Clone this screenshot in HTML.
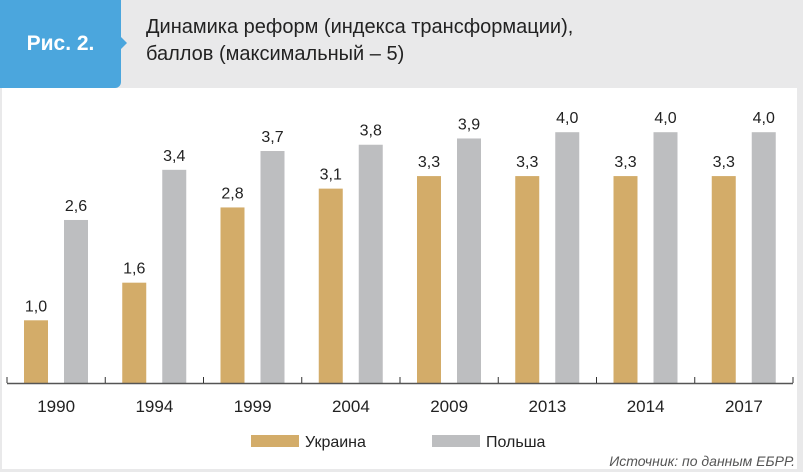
<!DOCTYPE html>
<html><head><meta charset="utf-8"><style>
body{margin:0;width:803px;height:472px;background:#e9e9ea;font-family:"Liberation Sans",sans-serif;overflow:hidden;position:relative}
#hdr{position:absolute;left:0;top:0;width:121px;height:88px;background:#4ba6dd;border-radius:0 0 6px 0}
#hdr:after{content:"";position:absolute;right:-6px;top:37px;border-left:6px solid #4ba6dd;border-top:6px solid transparent;border-bottom:6px solid transparent}
#title{position:absolute;left:146px;top:14px;font-size:20px;line-height:27px;color:#222}
#panel{position:absolute;left:2px;top:88px;width:795px;height:381px;background:#fff}
</style></head><body>
<div id="hdr"><div style="position:absolute;left:0;width:121px;top:32px;text-align:center;color:#fff;font-weight:bold;font-size:21px">Рис. 2.</div></div>
<div id="title">Динамика реформ (индекса трансформации),<br>баллов (максимальный – 5)</div>
<div id="panel"></div>
<svg id="chart" width="803" height="472" style="position:absolute;left:0;top:0"></svg>
<script>
const categories=["1990","1994","1999","2004","2009","2013","2014","2017"];
const ukraine=[1.0,1.6,2.8,3.1,3.3,3.3,3.3,3.3];
const poland=[2.6,3.4,3.7,3.8,3.9,4.0,4.0,4.0];
const svg=document.getElementById('chart');const NS="http://www.w3.org/2000/svg";
const x0=7,gw=98.25,baseY=383,ppu=62.7;
const xg=i=>x0+i*gw; const y=v=>baseY-v*ppu;
function mk(t,a,txt){const e=document.createElementNS(NS,t);for(const k in a)e.setAttribute(k,a[k]);if(txt!=null)e.textContent=txt;svg.appendChild(e);return e;}
function fmt(v){return v.toFixed(1).replace('.',',');}
categories.forEach((c,i)=>{
 let r=mk('rect',{x:xg(i)+17,y:y(ukraine[i]),width:24,height:ukraine[i]*ppu,fill:'#d3ac69'});
 
 
 let t=mk('text',{x:xg(i)+29,y:y(ukraine[i])-9,'text-anchor':'middle','font-size':16,fill:'#222'},fmt(ukraine[i]));
 
 
 let p=mk('rect',{x:xg(i)+57,y:y(poland[i]),width:24,height:poland[i]*ppu,fill:'#bdbec0'});
 
 
 let t2=mk('text',{x:xg(i)+69,y:y(poland[i])-9,'text-anchor':'middle','font-size':16,fill:'#222'},fmt(poland[i]));
 
 
 let l=mk('text',{x:xg(i)+gw/2,y:412,'text-anchor':'middle','font-size':17,fill:'#222'},c);
 
 
});
let ax=mk('line',{x1:7,x2:793,y1:baseY+0.5,y2:baseY+0.5,stroke:'#555','stroke-width':1.5});


for(let i=0;i<=categories.length;i++){let tk=mk('line',{x1:xg(i),x2:xg(i),y1:baseY-6,y2:baseY,stroke:'#333'});
 
 }
let g1=mk('rect',{x:251,y:435,width:48,height:12,fill:'#d3ac69'});
let g2=mk('text',{x:305,y:447,'font-size':16,fill:'#222'},'Украина');
let g3=mk('rect',{x:432,y:435,width:48,height:12,fill:'#bdbec0'});
let g4=mk('text',{x:486,y:447,'font-size':16,fill:'#222'},'Польша');
let s=mk('text',{x:795,y:466,'text-anchor':'end','font-size':14,'font-style':'italic',fill:'#555'},'Источник: по данным ЕБРР.');
</script>
</body></html>
